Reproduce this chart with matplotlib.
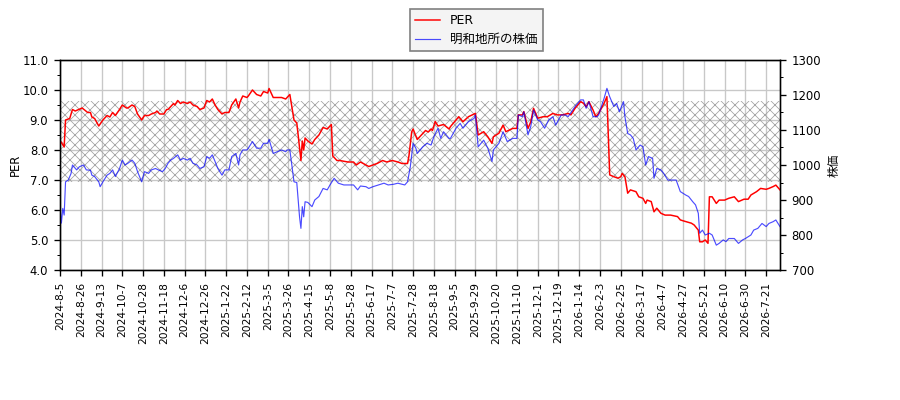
import matplotlib
matplotlib.use("Agg")
import matplotlib.pyplot as plt
from matplotlib.ticker import MultipleLocator

plt.rcParams['font.family'] = ['DejaVu Sans', 'Noto Sans CJK JP']
plt.rcParams['hatch.linewidth'] = 0.45

# trading-day labels, one tick every 15 trading days
tick_labels = [
    "2024-8-5", "2024-8-26", "2024-9-13", "2024-10-7", "2024-10-28", "2024-11-18",
    "2024-12-6", "2024-12-26", "2025-1-22", "2025-2-12", "2025-3-5", "2025-3-26",
    "2025-4-15", "2025-5-8", "2025-5-28", "2025-6-17", "2025-7-7", "2025-7-28",
    "2025-8-18", "2025-9-5", "2025-9-29", "2025-10-20", "2025-11-10", "2025-12-1",
    "2025-12-19", "2026-1-14", "2026-2-3", "2026-2-25", "2026-3-17", "2026-4-7",
    "2026-4-27", "2026-5-21", "2026-6-10", "2026-6-30", "2026-7-21",
]

# PER (left axis): trading-day index / value
per_day = [0, 1, 3, 4, 7, 9, 11, 16, 20, 22, 23, 25, 28, 31, 34, 36, 38, 40, 43, 45,
           48, 49, 52, 54, 56, 59, 61, 64, 66, 69, 70, 72, 75, 77, 78, 80, 82, 83, 85, 87,
           89, 92, 94, 96, 99, 101, 104, 106, 108, 110, 112, 114, 117, 119, 122, 124, 127, 129, 130, 132,
           135, 136, 139, 142, 145, 147, 150, 151, 154, 157, 160, 163, 164, 166, 169, 171, 172, 174, 175, 176,
           177, 179, 182, 184, 187, 190, 193, 196, 197, 200, 202, 208, 212, 214, 217, 219, 223, 226, 229, 233,
           236, 240, 244, 247, 251, 252, 254, 255, 258, 262, 264, 266, 268, 269, 271, 273, 277, 281, 282, 288,
           291, 295, 300, 302, 306, 309, 312, 313, 317, 320, 322, 327, 330, 331, 334, 335, 338, 340, 342, 345,
           349, 352, 356, 359, 363, 367, 369, 372, 376, 378, 380, 382, 385, 387, 389, 393, 395, 397, 400, 403,
           405, 406, 408, 410, 412, 416, 418, 421, 423, 424, 427, 429, 431, 434, 437, 441, 446, 448, 450, 456,
           458, 461, 462, 464, 466, 468, 469, 471, 474, 476, 480, 483, 487, 490, 494, 497, 499, 503, 506, 510,
           512, 515, 517, 520]
per_val = [8.30, 8.25, 8.10, 9.00, 9.05, 9.35, 9.30, 9.40, 9.25, 9.25, 9.10, 9.05, 8.80, 9.00, 9.15, 9.10, 9.25, 9.15, 9.35, 9.50,
           9.40, 9.40, 9.50, 9.45, 9.20, 9.00, 9.15, 9.15, 9.20, 9.25, 9.30, 9.20, 9.20, 9.35, 9.35, 9.45, 9.55, 9.50, 9.65, 9.55,
           9.60, 9.55, 9.60, 9.50, 9.45, 9.35, 9.40, 9.65, 9.60, 9.70, 9.50, 9.35, 9.20, 9.25, 9.25, 9.50, 9.70, 9.40, 9.60, 9.80,
           9.75, 9.80, 10.00, 9.85, 9.80, 9.95, 9.90, 10.05, 9.75, 9.75, 9.75, 9.70, 9.75, 9.85, 9.00, 8.90, 8.50, 7.65, 8.30, 8.00,
           8.40, 8.30, 8.20, 8.35, 8.50, 8.75, 8.70, 8.85, 7.80, 7.65, 7.65, 7.60, 7.60, 7.50, 7.60, 7.55, 7.45, 7.50, 7.55, 7.65,
           7.60, 7.65, 7.60, 7.55, 7.55, 7.80, 8.60, 8.70, 8.35, 8.55, 8.65, 8.60, 8.70, 8.65, 8.95, 8.80, 8.85, 8.70, 8.78, 9.11,
           8.94, 9.11, 9.22, 8.50, 8.61, 8.44, 8.22, 8.44, 8.56, 8.83, 8.61, 8.72, 8.72, 9.17, 9.17, 9.28, 8.72, 8.94, 9.39, 9.06,
           9.11, 9.11, 9.22, 9.17, 9.17, 9.22, 9.17, 9.39, 9.61, 9.56, 9.44, 9.61, 9.33, 9.11, 9.22, 9.56, 9.78, 7.17, 7.11, 7.06,
           7.11, 7.22, 7.11, 6.56, 6.67, 6.61, 6.44, 6.39, 6.22, 6.33, 6.28, 5.94, 6.06, 5.89, 5.83, 5.83, 5.78, 5.67, 5.64, 5.56,
           5.50, 5.33, 4.94, 4.94, 5.00, 4.89, 6.44, 6.44, 6.22, 6.33, 6.33, 6.39, 6.44, 6.28, 6.36, 6.36, 6.50, 6.61, 6.72, 6.69,
           6.72, 6.78, 6.83, 6.67]

# share price (right axis)
price_day = [0, 1, 2, 3, 4, 6, 8, 9, 12, 14, 17, 19, 22, 23, 25, 28, 29, 31, 34, 36,
             38, 40, 43, 45, 47, 49, 52, 54, 56, 59, 61, 64, 66, 69, 71, 74, 76, 78, 80, 82,
             85, 87, 89, 92, 94, 96, 99, 101, 104, 106, 108, 110, 112, 114, 117, 119, 122, 124, 127, 129,
             130, 132, 135, 136, 139, 142, 145, 147, 150, 151, 154, 157, 160, 163, 164, 166, 169, 171, 172, 173,
             174, 175, 176, 177, 179, 182, 184, 187, 190, 193, 195, 198, 201, 205, 208, 212, 215, 217, 221, 223,
             226, 230, 234, 237, 241, 244, 249, 251, 253, 255, 257, 258, 262, 265, 268, 270, 273, 275, 277, 281,
             282, 286, 289, 291, 295, 299, 300, 302, 306, 309, 312, 313, 317, 320, 323, 327, 330, 331, 334, 335,
             338, 340, 342, 345, 347, 350, 353, 356, 358, 362, 365, 367, 372, 376, 378, 380, 382, 385, 388, 389,
             393, 395, 397, 400, 402, 404, 407, 408, 410, 412, 414, 416, 419, 421, 423, 425, 428, 429, 431, 434,
             436, 439, 443, 445, 448, 452, 454, 457, 459, 461, 462, 464, 466, 469, 471, 474, 476, 479, 481, 483,
             487, 490, 493, 495, 499, 501, 504, 507, 510, 512, 515, 517, 520]
price_val = [881, 834, 876, 857, 952, 957, 976, 1000, 986, 995, 1000, 986, 985, 971, 967, 952, 938, 952, 971, 976,
             986, 967, 990, 1014, 1000, 1005, 1014, 1005, 981, 952, 981, 976, 986, 990, 986, 981, 990, 1005, 1014, 1019,
             1029, 1014, 1019, 1014, 1019, 1005, 1000, 990, 995, 1024, 1019, 1029, 1010, 990, 971, 986, 986, 1024, 1033, 1000,
             1029, 1043, 1043, 1048, 1067, 1048, 1048, 1062, 1062, 1073, 1033, 1038, 1043, 1038, 1043, 1043, 952, 950, 900, 852,
             819, 881, 852, 895, 893, 881, 900, 910, 933, 929, 943, 962, 948, 943, 943, 943, 929, 940, 938, 933,
             938, 943, 948, 943, 945, 948, 943, 952, 995, 1062, 1048, 1033, 1052, 1062, 1057, 1081, 1105, 1076, 1095, 1076,
             1076, 1105, 1119, 1105, 1124, 1133, 1143, 1052, 1071, 1048, 1010, 1043, 1062, 1095, 1067, 1076, 1076, 1143, 1138, 1152,
             1086, 1110, 1157, 1129, 1124, 1105, 1129, 1138, 1114, 1143, 1143, 1138, 1167, 1186, 1186, 1162, 1181, 1138, 1138, 1143,
             1191, 1219, 1195, 1167, 1176, 1152, 1181, 1138, 1090, 1086, 1076, 1043, 1057, 1052, 1000, 1024, 1019, 962, 990, 986,
             976, 957, 957, 957, 924, 914, 910, 895, 886, 862, 805, 814, 800, 805, 800, 771, 776, 786, 781, 790,
             790, 776, 786, 790, 800, 814, 819, 833, 824, 833, 838, 843, 824]

fig = plt.figure(figsize=(7.5, 10 / 3), dpi=120)
ax1 = fig.add_axes([60 / 900, 1 - 270 / 400, 720 / 900, 210 / 400])
ax2 = ax1.twinx()

# hatched band
ax1.axhspan(6.93, 9.63, facecolor='none', edgecolor='#a0a0a0', hatch='xxxx', linewidth=0, zorder=1)

l1, = ax1.plot(per_day, per_val, color='red', linewidth=0.9, label='PER', zorder=3)
l2, = ax2.plot(price_day, price_val, color='blue', alpha=0.7, linewidth=0.7, label='明和地所の株価')

ax1.set_xlim(0, 520)
ax1.set_ylim(4.0, 11.0)
ax2.set_ylim(700, 1300)
ax1.yaxis.set_major_locator(MultipleLocator(1.0))
ax1.yaxis.set_minor_locator(MultipleLocator(0.5))
ax2.yaxis.set_major_locator(MultipleLocator(100))
ax2.yaxis.set_minor_locator(MultipleLocator(50))
ax1.yaxis.set_major_formatter(plt.FormatStrFormatter('%.1f'))

ax1.set_xticks(range(0, 15 * len(tick_labels), 15))
ax1.set_xticklabels(tick_labels, rotation=90, fontsize=6.4)
ax1.tick_params(axis='y', labelsize=7)
ax2.tick_params(axis='y', labelsize=7)
ax1.grid(True, color='#c8c8c8', linewidth=0.8)
ax1.set_axisbelow(True)

ax1.set_ylabel('PER', fontsize=7, labelpad=0)
ax2.set_ylabel('株価', fontsize=7, family=['Noto Sans CJK JP', 'DejaVu Sans'])

fig.legend([l1, l2], ['PER', '明和地所の株価'], loc='upper left',
           bbox_to_anchor=(410 / 900, 1 - 9 / 400), borderaxespad=0,
           prop={'family': ['DejaVu Sans', 'Noto Sans CJK JP'], 'size': 7.5},
           fancybox=False, edgecolor='gray', framealpha=1, facecolor='#f4f4f4')

fig.savefig('out.png', dpi=120)
